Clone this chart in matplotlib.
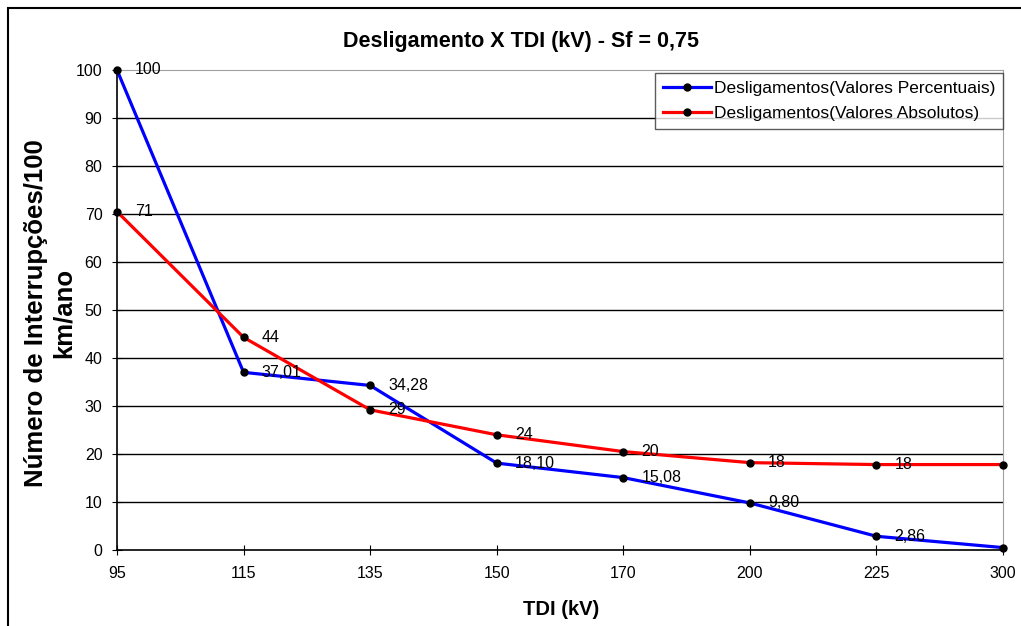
import matplotlib.pyplot as plt
from matplotlib.patches import Rectangle

plt.rcParams['font.family'] = ['Liberation Sans', 'DejaVu Sans']

# categorias do eixo x (TDI em kV)
tdi = ['95', '115', '135', '150', '170', '200', '225', '300']
# desligamentos - valores percentuais
perc = [100, 37.01, 34.28, 18.10, 15.08, 9.80, 2.86, 0.5]
perc_lbl = ['100', '37,01', '34,28', '18,10', '15,08', '9,80', '2,86', '0,5']
# desligamentos - valores absolutos
absol = [70.5, 44.3, 29.2, 24.0, 20.5, 18.2, 17.8, 17.8]
absol_lbl = ['71', '44', '29', '24', '20', '18', '18', '18']

fig = plt.figure(figsize=(10.21, 6.26), dpi=100)
ax = fig.add_axes([0.1146, 0.1214, 0.8678, 0.7668])

x = list(range(len(tdi)))
ax.plot(x, perc, color='#0000ff', lw=2.3, marker='o', ms=5,
        mfc='black', mec='black', label='Desligamentos(Valores Percentuais)', zorder=3, clip_on=False)
ax.plot(x, absol, color='#ff0000', lw=2.3, marker='o', ms=5,
        mfc='black', mec='black', label='Desligamentos(Valores Absolutos)', zorder=3, clip_on=False)

for xi, v, t in zip(x, perc, perc_lbl):
    ax.annotate(t, (xi, v), xytext=(13, 0), textcoords='offset points',
                va='center', ha='left', fontsize=11.5, annotation_clip=False, zorder=4)
for xi, v, t in zip(x, absol, absol_lbl):
    ax.annotate(t, (xi, v), xytext=(13, 0), textcoords='offset points',
                va='center', ha='left', fontsize=11.5, annotation_clip=False, zorder=4)

ax.set_xlim(0, len(tdi) - 1)
ax.set_ylim(0, 100)
ax.set_xticks(x)
ax.set_xticklabels(tdi)
ax.set_yticks(range(0, 101, 10))
ax.tick_params(axis='y', labelsize=11.5, direction='inout', length=7, pad=7)
ax.tick_params(axis='x', labelsize=11.5, direction='inout', length=7, pad=8)

for yv in range(10, 100, 10):
    ax.axhline(yv, color='black', lw=1, zorder=1)
ax.spines['top'].set_color('#a0a0a0')
ax.spines['right'].set_color('#a0a0a0')
ax.spines['left'].set_linewidth(1.2)
ax.spines['bottom'].set_linewidth(1.2)

fig.text(0.51, 0.933, 'Desligamento X TDI (kV) - Sf = 0,75', ha='center', va='center',
         fontsize=15.5, fontweight='bold')
fig.text(0.55, 0.027, 'TDI (kV)', ha='center', va='center', fontsize=14.5, fontweight='bold')
fig.text(0.049, 0.50, 'Número de Interrupções/100\nkm/ano', ha='center', va='center',
         rotation=90, fontsize=18.5, fontweight='bold', linespacing=1.2)

leg = ax.legend(loc='upper right', bbox_to_anchor=(1.0, 0.993), fontsize=12.5,
                frameon=True, fancybox=False, edgecolor='#333333', borderaxespad=0,
                handlelength=2.8, handletextpad=0.15, borderpad=0.45, labelspacing=0.55)
leg.get_frame().set_linewidth(1)

fig.patches.append(Rectangle((8 / 1021, -0.1), 1.2, 1 - 8 / 626 + 0.1, transform=fig.transFigure,
                             fill=False, edgecolor='black', lw=1.5))

fig.savefig('out.png', dpi=100)
